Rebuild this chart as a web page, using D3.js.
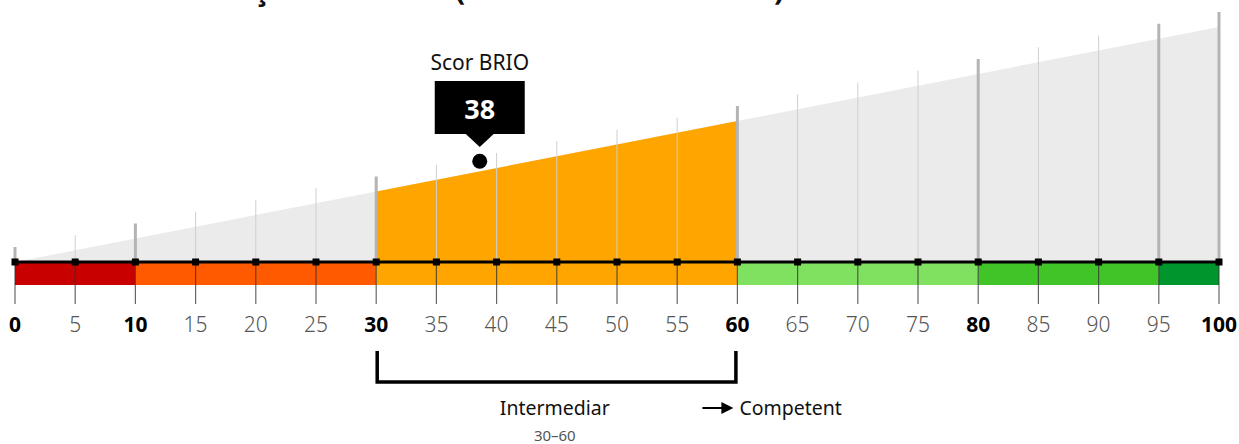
<!DOCTYPE html>
<html>
<head>
<meta charset="utf-8">
<script src="https://cdn.jsdelivr.net/npm/d3@7"></script>
<style>
  html, body { margin: 0; padding: 0; background: #fff; }
  svg { display: block; font-family: "Noto Sans", "Open Sans", sans-serif; }
</style>
</head>
<body>
<div id="chart"></div>
<script>
// benzile de nivel (limite si culori)
const bandStarts = [0, 10, 30, 60, 80, 95];
const bandEnds   = [10, 30, 60, 80, 95, 100];
const bandColors = ['#c80000', '#ff5a00', '#ffa500', '#80e060', '#40c428', '#00962d'];

const tickValues = [0, 5, 10, 15, 20, 25, 30, 35, 40, 45, 50, 55, 60, 65, 70, 75, 80, 85, 90, 95, 100];
const boldTicks  = [0, 10, 30, 60, 80, 100];
const majorLines = [0, 10, 30, 60, 80, 95, 100];

const score = 38.6;
const scoreLabel = '38';
const currentBand = [30, 60];
const currentName = 'Intermediar';
const nextName = 'Competent';

const titleText = 'Evaluare BRIO — situaţia ta la nivel (Scor total: 38 din 100)';

const W = 1239, H = 444;
const axisY = 262, barH = 23;

const svg = d3.select('#chart').append('svg')
    .attr('width', W)
    .attr('height', H);

const x = d3.scaleLinear().domain([0, 100]).range([15, 1219]);
// inaltimea panei gri
const h = d3.scaleLinear().domain([0, 100]).range([0, 235]);

// titlu (taiat sus) - aliniat dupa paranteza
const title = svg.append('text')
    .attr('x', 0)
    .attr('y', 0)
    .attr('font-size', 30)
    .attr('font-weight', 700)
    .attr('fill', '#111')
    .text(titleText);
const pre = title.node().getSubStringLength(0, titleText.indexOf('('));
title.attr('x', 455 - pre);

// pana gri
svg.append('path')
    .attr('d', d3.line()([[x(0), axisY], [x(100), axisY - h(100)], [x(100), axisY]]))
    .attr('fill', '#ebebeb');

// pana portocalie pentru nivelul curent
svg.append('path')
    .attr('d', d3.line()([
        [x(currentBand[0]), axisY],
        [x(currentBand[0]), axisY - h(currentBand[0])],
        [x(currentBand[1]), axisY - h(currentBand[1])],
        [x(currentBand[1]), axisY]
    ]))
    .attr('fill', bandColors[2]);

// linii verticale
svg.selectAll('.grid')
    .data(tickValues)
    .enter()
    .append('line')
    .attr('x1', d => x(d))
    .attr('x2', d => x(d))
    .attr('y1', axisY)
    .attr('y2', d => axisY - h(d) - 15)
    .attr('stroke', d => majorLines.includes(d) ? '#b4b4b4' : '#cfcfcf')
    .attr('stroke-width', d => majorLines.includes(d) ? 3 : 1);

// benzi colorate
svg.selectAll('.band')
    .data(bandStarts)
    .enter()
    .append('rect')
    .attr('x', d => x(d))
    .attr('y', axisY)
    .attr('width', (d, i) => x(bandEnds[i]) - x(d))
    .attr('height', barH)
    .attr('fill', (d, i) => bandColors[i]);

// liniute sub axa
svg.selectAll('.tick')
    .data(tickValues)
    .enter()
    .append('line')
    .attr('x1', d => x(d))
    .attr('x2', d => x(d))
    .attr('y1', axisY)
    .attr('y2', axisY + 42)
    .attr('stroke', '#333')
    .attr('stroke-opacity', 0.75)
    .attr('stroke-width', 1.2);

// axa
svg.append('line')
    .attr('x1', x(0))
    .attr('x2', x(100))
    .attr('y1', axisY)
    .attr('y2', axisY)
    .attr('stroke', '#000')
    .attr('stroke-width', 3);

svg.selectAll('.sq')
    .data(tickValues)
    .enter()
    .append('rect')
    .attr('x', d => x(d) - 3.5)
    .attr('y', axisY - 3.5)
    .attr('width', 7)
    .attr('height', 7)
    .attr('fill', '#000');

// etichete
svg.selectAll('.lbl')
    .data(tickValues)
    .enter()
    .append('text')
    .attr('x', d => x(d))
    .attr('y', 332)
    .attr('text-anchor', 'middle')
    .attr('font-size', 21)
    .attr('font-weight', d => boldTicks.includes(d) ? 700 : 300)
    .attr('fill', d => boldTicks.includes(d) ? '#000' : '#555')
    .text(d => d);

// marcaj scor
const sx = x(score);
const sTop = axisY - h(score);
svg.append('circle')
    .attr('cx', sx)
    .attr('cy', sTop - 10)
    .attr('r', 7.5)
    .attr('fill', '#000');

svg.append('rect')
    .attr('x', sx - 45)
    .attr('y', 81)
    .attr('width', 90)
    .attr('height', 53)
    .attr('fill', '#000');

svg.append('path')
    .attr('d', d3.line()([[sx - 15, 133], [sx + 15, 133], [sx, 147]]))
    .attr('fill', '#000');

svg.append('text')
    .attr('x', sx)
    .attr('y', 119)
    .attr('text-anchor', 'middle')
    .attr('font-size', 27)
    .attr('font-weight', 700)
    .attr('fill', '#fff')
    .text(scoreLabel);

svg.append('text')
    .attr('x', sx)
    .attr('y', 70)
    .attr('text-anchor', 'middle')
    .attr('font-size', 21)
    .attr('fill', '#111')
    .text('Scor BRIO');

// paranteza nivel curent
svg.append('path')
    .attr('d', d3.line()([
        [x(currentBand[0]) + 1, 351],
        [x(currentBand[0]) + 1, 382],
        [x(currentBand[1]) - 1.5, 382],
        [x(currentBand[1]) - 1.5, 351]
    ]))
    .attr('fill', 'none')
    .attr('stroke', '#000')
    .attr('stroke-width', 3.5);

const mid = x((currentBand[0] + currentBand[1]) / 2);
svg.append('text')
    .attr('x', mid - 2)
    .attr('y', 415)
    .attr('text-anchor', 'middle')
    .attr('font-size', 19.5)
    .attr('fill', '#111')
    .text(currentName);

svg.append('text')
    .attr('x', mid - 2)
    .attr('y', 441)
    .attr('text-anchor', 'middle')
    .attr('font-size', 15)
    .attr('fill', '#555')
    .text(`${currentBand[0]}–${currentBand[1]}`);

// sageata spre nivelul urmator
const ax = x(currentBand[1]);
svg.append('line')
    .attr('x1', ax - 35)
    .attr('x2', ax - 14)
    .attr('y1', 408)
    .attr('y2', 408)
    .attr('stroke', '#000')
    .attr('stroke-width', 2);
svg.append('path')
    .attr('d', d3.line()([[ax - 16, 402], [ax - 4, 408], [ax - 16, 414]]))
    .attr('fill', '#000');

svg.append('text')
    .attr('x', ax + 2)
    .attr('y', 415)
    .attr('font-size', 19.5)
    .attr('fill', '#111')
    .text(nextName);
</script>
</body>
</html>
